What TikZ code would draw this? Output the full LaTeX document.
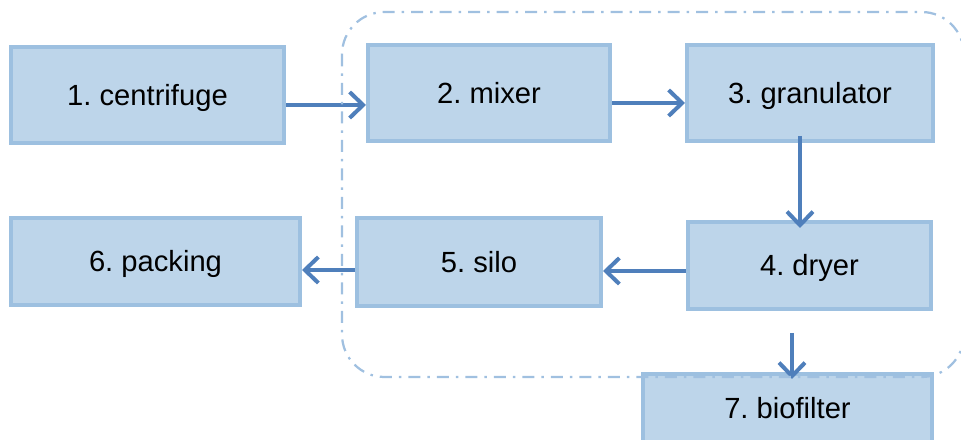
\documentclass[tikz,border=0pt]{standalone}
\usepackage{fontspec}
\setmainfont{Liberation Sans}
\usepackage{tikz}
\usetikzlibrary{arrows.meta}
\definecolor{boxfill}{HTML}{BDD5EA}
\definecolor{boxline}{HTML}{9DC0E0}
\definecolor{flowblue}{HTML}{4F7FBB}
\definecolor{grpline}{HTML}{A0C0E0}
\begin{document}
\begin{tikzpicture}[x=0.2mm,y=-0.2mm,
    unit/.style={draw=boxline,fill=boxfill,line width=0.8mm,inner sep=0pt,
      minimum height=19.2mm,text height=11.9pt,text depth=0pt,
      font=\fontsize{16.6}{20}\selectfont\frenchspacing},
    flow/.style={draw=flowblue,line width=0.8mm,
      -{Straight Barb[length=2.7mm,width=5.2mm]}},
    group/.style={draw=grpline,line width=0.45mm,rounded corners=8.5mm,
      dash pattern=on 2.4mm off 1.4mm on 0.5mm off 1.4mm}]
  \useasboundingbox (0,0) rectangle (961,440);
  \node[unit,minimum width=54.6mm] (cent) at (147.5,95) {1. centrifuge};
  \node[unit,minimum width=48.4mm] (mix) at (489,93) {2. mixer};
  \node[unit,minimum width=49.2mm] (gran) at (810,93) {3. granulator};
  \node[unit,minimum width=48.6mm,minimum height=17.4mm] (dry) at (809.5,265.5) {4. dryer};
  \node[unit,minimum width=48.8mm,minimum height=17.6mm] (silo) at (479,262) {5. silo};
  \node[unit,minimum width=57.8mm,minimum height=17.4mm] (pack) at (155.5,261.5) {6. packing};
  \node[unit,minimum width=57.8mm,minimum height=13.6mm] (bio) at (787.5,408) {7. biofilter};
  \draw[flow]
    ([yshift=-2mm]cent.east)
    --
    ([yshift=-2mm]cent.east -| mix.west);
  \draw[flow]
    ([yshift=-2mm]mix.east)
    --
    ([yshift=-2mm]mix.east -| gran.west);
  \draw[flow]
    ([xshift=-2mm,yshift=1.4mm]gran.south)
    --
    ([xshift=-2mm,yshift=-1.6mm]gran.south |- dry.north);
  \draw[flow]
    ([yshift=-1.1mm]dry.west)
    --
    ([yshift=-1.1mm]dry.west -| silo.east);
  \draw[flow]
    ([yshift=-1.6mm]silo.west)
    --
    ([yshift=-1.6mm]silo.west -| pack.east);
  \draw[flow]
    ([xshift=-3.5mm,yshift=-4.4mm]dry.south)
    --
    ([xshift=-3.5mm,yshift=-1.4mm]dry.south |- bio.north);
  \draw[group] (342,12) rectangle (964,377);
\end{tikzpicture}
\end{document}
